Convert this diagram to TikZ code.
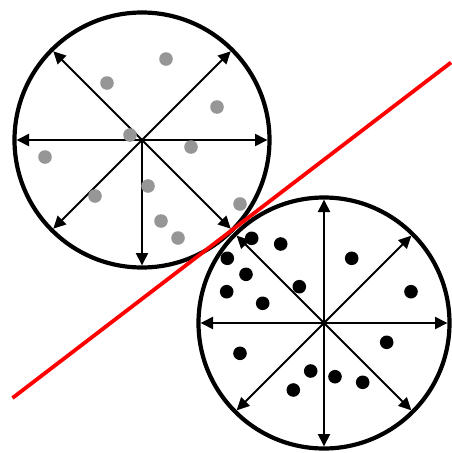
\documentclass[tikz,border=0pt]{standalone}
\usetikzlibrary{arrows.meta}
\begin{document}
\begin{tikzpicture}[x=1pt,y=-1pt,
  ring/.style={line width=4.2pt,draw=black},
  ray/.style={line width=2pt,-{Triangle[length=12.5pt,width=12pt]}},
  graydot/.style={fill={rgb,255:red,150;green,150;blue,150}},
  blackdot/.style={fill=black},
  redline/.style={line width=3.8pt,draw={rgb,255:red,255;green,0;blue,0}}]
\useasboundingbox (0,0) rectangle (451,453);
\coordinate (A) at (142,140);
\coordinate (B) at (324,323);
\def\ra{127.5}
\def\rb{125.5}
% top circle rays
\foreach \ang in {0,45,90,135,180,225,315}{
  \draw[ray] (A) -- ++(\ang:{\ra-2});
}
% bottom circle rays
\foreach \ang in {0,45,90,135,180,225,270,315}{
  \draw[ray] (B) -- ++(\ang:{\rb-2});
}
% gray dots
\foreach \p in {(166,59),(107,83),(217,107),(130,135),(191,147),(45,157),(95,196),(148,186),(240,204),(161,221),(178,238)}{
  \fill[graydot] \p circle (6.8);
}
% black dots
\foreach \p in {(251.7,238.3),(280.7,244),(227.3,258.3),(351.7,258.3),(246,274.3),(226.7,291.7),(299.3,286.7),(411,291.7),(262.7,303.3),(386.7,342.3),(240,353.3),(310.7,371),(335,376.7),(362.7,382.3),(293.3,390)}{
  \fill[blackdot] \p circle (6.8);
}
\draw[ring] (A) circle (\ra);
\draw[ring] (B) circle (\rb);
\coordinate (L1) at (12.5,398);
\coordinate (L2) at (451,62.5);
\draw[redline] (L1) -- (L2);
\end{tikzpicture}
\end{document}
